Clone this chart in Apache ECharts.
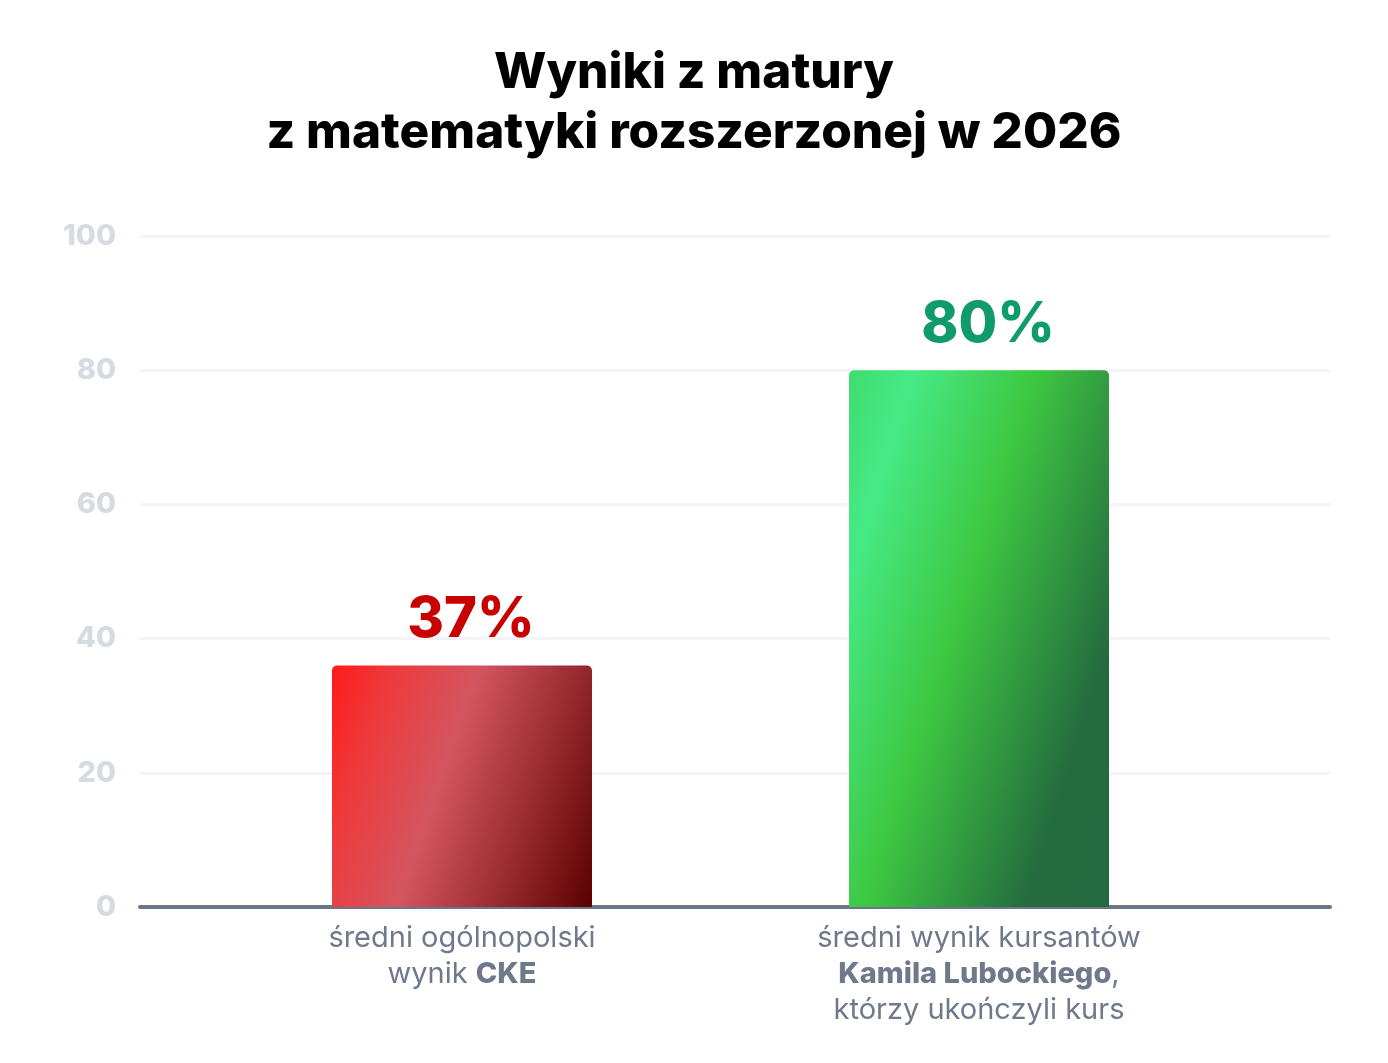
<!DOCTYPE html>
<html>
<head>
<meta charset="utf-8">
<title>Wyniki z matury</title>
<script src="https://cdn.jsdelivr.net/npm/echarts@6/dist/echarts.min.js"></script>
<style>
	html, body { margin: 0; padding: 0; background: #fff; }
	#chart { width: 1388px; height: 1063px; }
</style>
</head>
<body>
<div id="chart"></div>
<script>
// dane
var categories = ['średni ogólnopolski wynik CKE', 'średni wynik kursantów Kamila Lubockiego'];
var categoryLabels = [
	'średni ogólnopolski\nwynik {b|CKE}',
	'średni wynik kursantów\n{b|Kamila Lubockiego},\nktórzy ukończyli kurs'
];
var values = [36, 80];
var valueLabels = ['37%', '80%'];
var yTicks = [0, 20, 40, 60, 80, 100];

var fontName = 'Inter, "Noto Sans", sans-serif';

var chart = echarts.init(document.getElementById('chart'));

var redFill = new echarts.graphic.LinearGradient(0, 0, 1.18, 0.44, [
	{ offset: 0, color: '#ff1a1a' },
	{ offset: 0.18, color: '#ee3a3c' },
	{ offset: 0.43, color: '#d4555f' },
	{ offset: 0.72, color: '#992b30' },
	{ offset: 1, color: '#5a0000' }
]);
var greenFill = new echarts.graphic.LinearGradient(0, 0, 1.51, 0.233, [
	{ offset: 0, color: '#3fdc70' },
	{ offset: 0.15, color: '#46ea85' },
	{ offset: 0.43, color: '#3ec842' },
	{ offset: 0.8, color: '#246c3e' },
	{ offset: 1, color: '#236a3e' }
]);
var fills = [redFill, greenFill];
var labelColors = ['#c80000', '#0f9b6a'];

var option = {
	backgroundColor: '#ffffff',
	animation: false,
	title: {
		text: 'Wyniki z matury\nz matematyki rozszerzonej w 2026',
		left: 'center',
		top: 38,
		textStyle: {
			fontFamily: fontName,
			fontSize: 49.5,
			fontWeight: 800,
			color: '#000000',
			lineHeight: 60
		}
	},
	grid: [
		{ left: 140, right: 58, top: 236, bottom: 156 },
		{ left: 203.5, right: 150.5, top: 236, bottom: 156 }
	],
	xAxis: [
		{
			gridIndex: 0,
			type: 'category',
			data: categories,
			axisLine: { show: true, lineStyle: { color: '#6b7588', width: 4 } },
			axisTick: { show: false },
			axisLabel: { show: false },
			splitLine: { show: false }
		},
		{
			gridIndex: 1,
			type: 'category',
			data: categories,
			axisLine: { show: false },
			axisTick: { show: false },
			axisLabel: {
				margin: 13,
				fontFamily: fontName,
				fontSize: 29,
				lineHeight: 36,
				color: '#6f798c',
				formatter: function(value, index) {
					return categoryLabels[index];
				},
				rich: {
					b: {
						fontFamily: fontName,
						fontSize: 29,
						lineHeight: 36,
						fontWeight: 800,
						color: '#6f798c'
					}
				}
			}
		}
	],
	yAxis: [
		{
			gridIndex: 0,
			type: 'value',
			min: yTicks[0],
			max: yTicks[yTicks.length - 1],
			interval: 20,
			axisLine: { show: false },
			axisTick: { show: false },
			axisLabel: {
				margin: 24,
				fontFamily: fontName,
				fontSize: 29,
				fontWeight: 800,
				color: '#d6dae1'
			},
			splitLine: { lineStyle: { color: '#f4f4f6', width: 3 } }
		},
		{
			gridIndex: 1,
			type: 'value',
			min: 0,
			max: 100,
			show: false,
			splitLine: { show: false }
		}
	],
	series: [{
		type: 'bar',
		xAxisIndex: 1,
		yAxisIndex: 1,
		barWidth: 260,
		data: values.map(function(v, i) {
			return {
				value: v,
				itemStyle: { color: fills[i], borderRadius: [5, 5, 0, 0] },
				label: { color: labelColors[i] }
			};
		}),
		label: {
			show: true,
			position: 'top',
			distance: 17,
			offset: [9, 0],
			fontFamily: fontName,
			fontSize: 56,
			fontWeight: 800,
			formatter: function(p) {
				return valueLabels[p.dataIndex];
			}
		}
	}]
};

chart.setOption(option);
</script>
</body>
</html>
